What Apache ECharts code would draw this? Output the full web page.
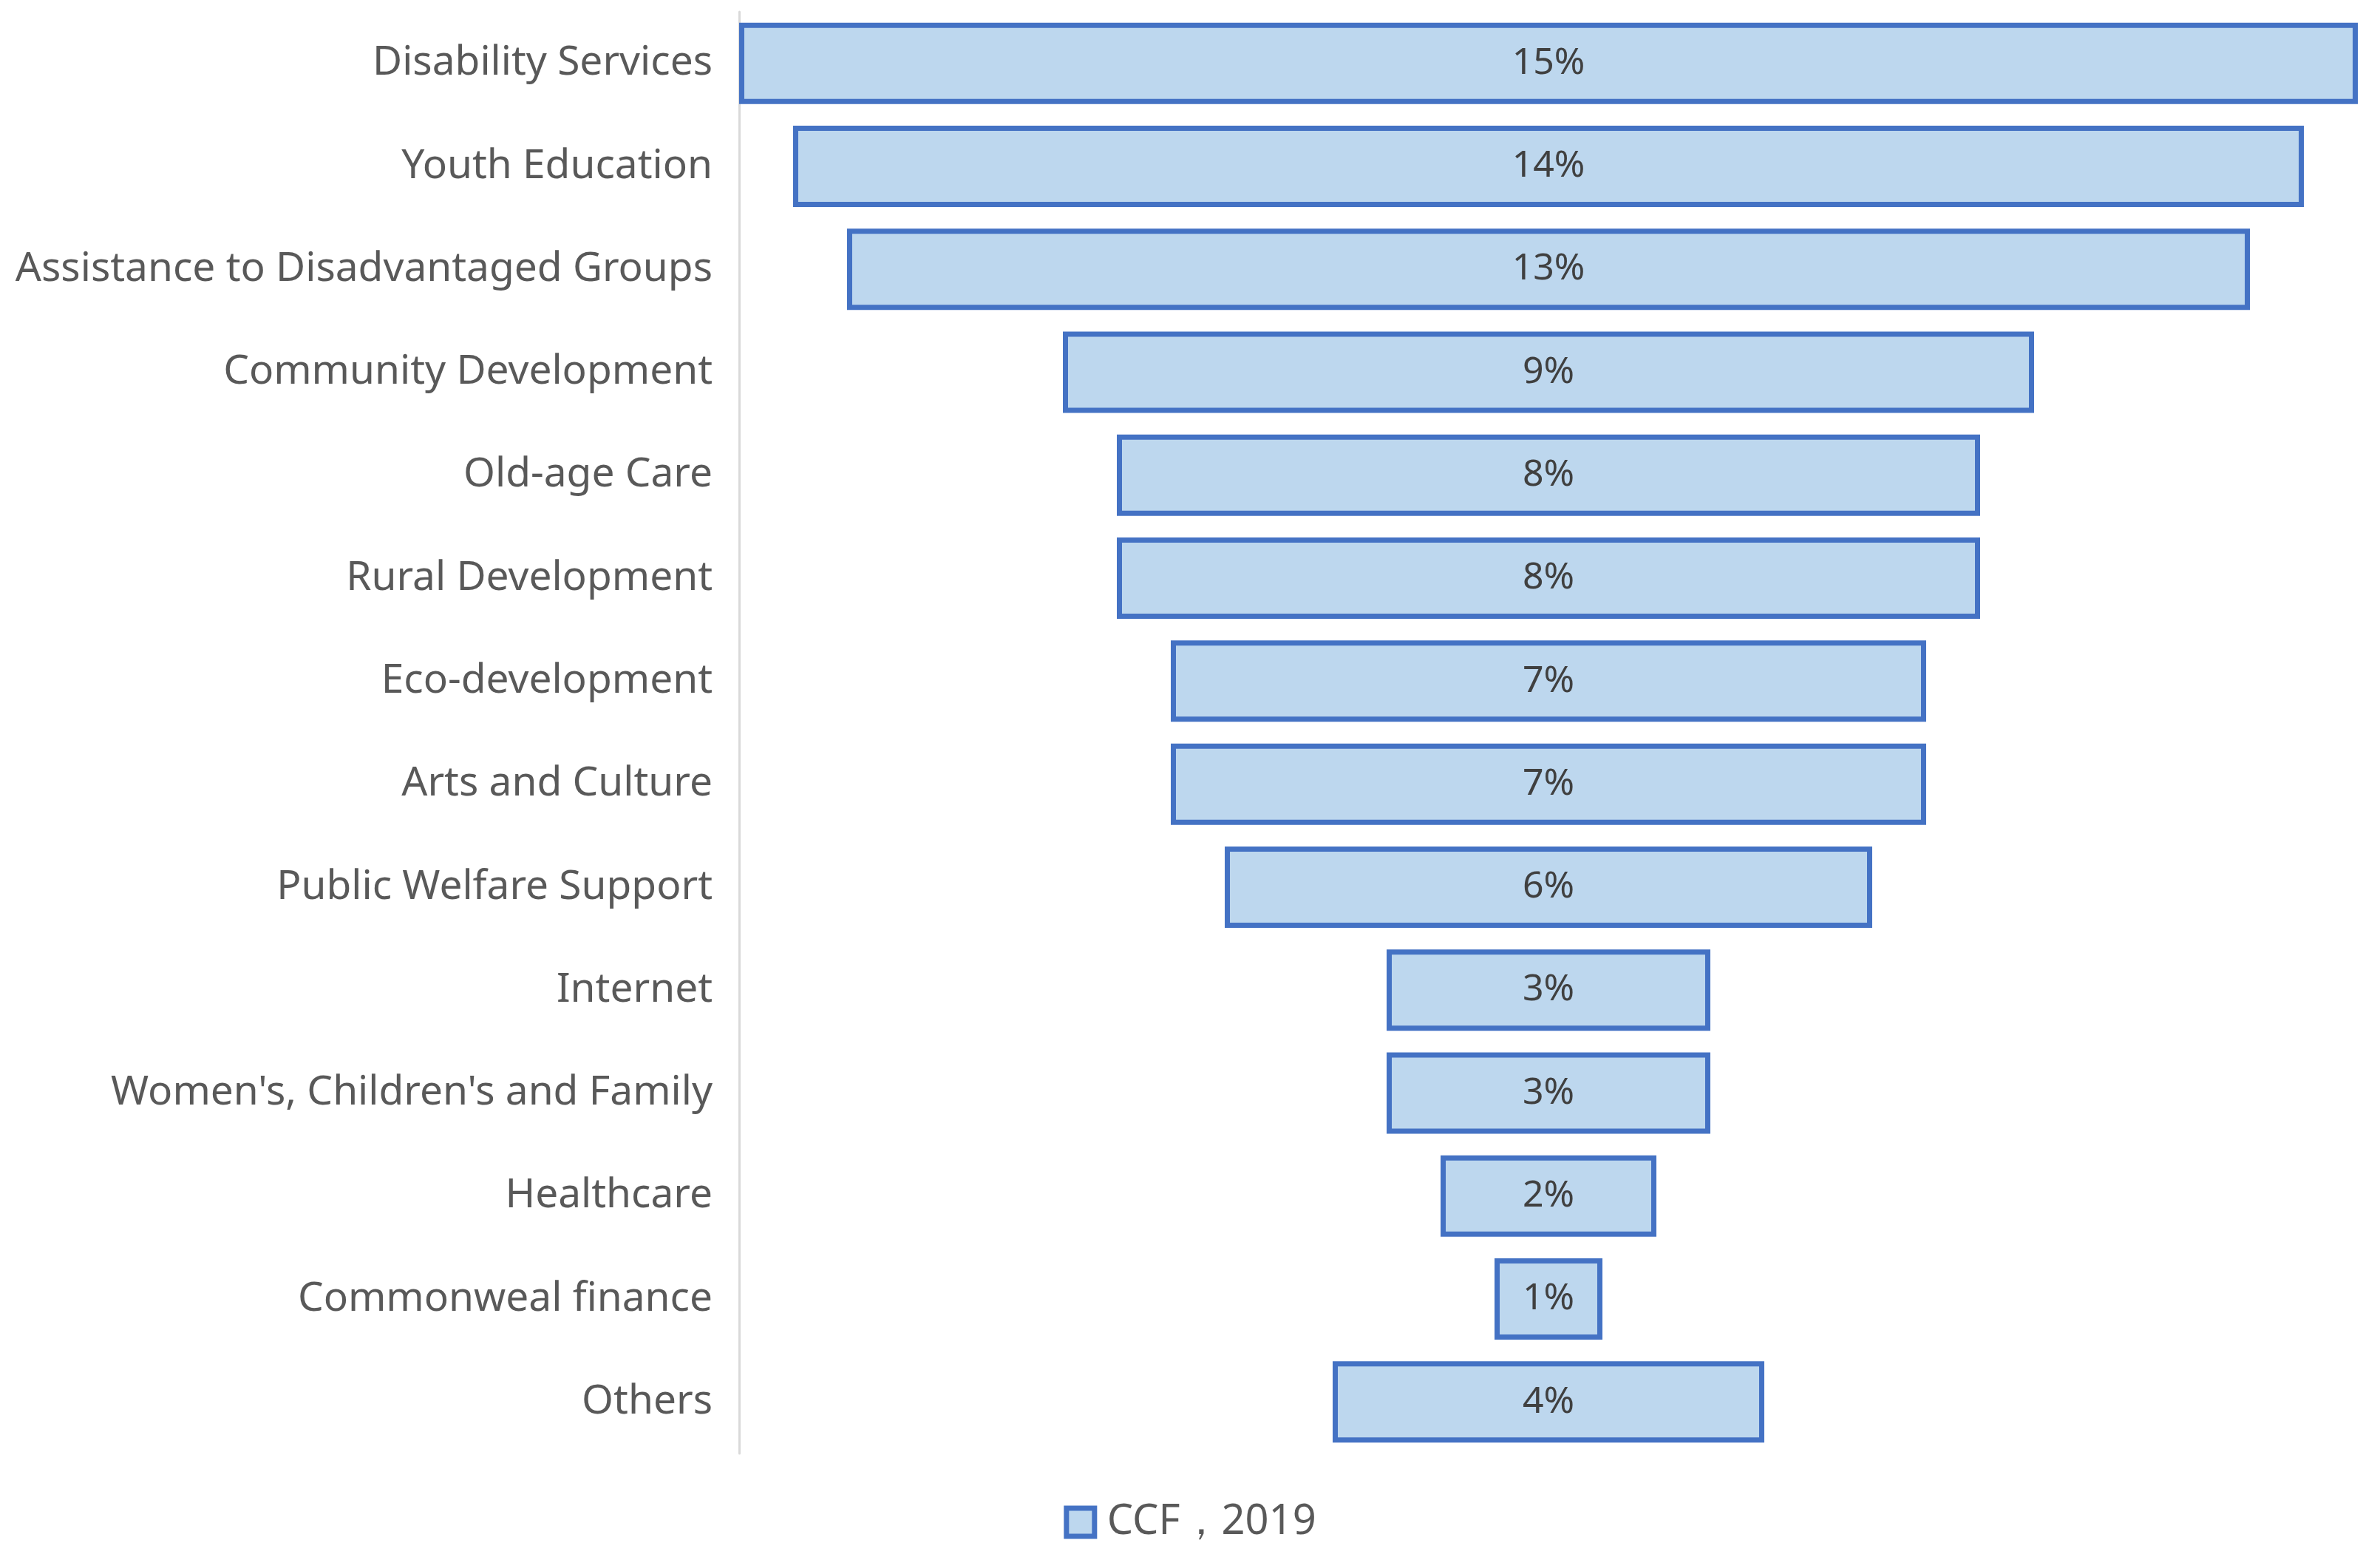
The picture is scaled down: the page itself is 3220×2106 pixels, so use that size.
<!DOCTYPE html>
<html>
<head>
<meta charset="utf-8">
<script src="https://cdn.jsdelivr.net/npm/echarts@6/dist/echarts.min.js"></script>
<style>html,body{margin:0;padding:0;background:#fff;}#c{width:3220px;height:2106px;}</style>
</head>
<body>
<div id="c"></div>
<script>
const categories = ["Disability Services","Youth Education","Assistance to Disadvantaged Groups","Community Development","Old-age Care","Rural Development","Eco-development","Arts and Culture","Public Welfare Support","Internet","Women's, Children's and Family","Healthcare","Commonweal finance","Others"];
const values = [15,14,13,9,8,8,7,7,6,3,3,2,1,4];
const seriesName = "CCF，2019";
const maxValue = 15;
const offsets = values.map(v => (maxValue - v) / 2);

const chart = echarts.init(document.getElementById('c'));
chart.setOption({
  animation: false,
  backgroundColor: '#fff',
  grid: {left: 1000, right: 30, top: 16, height: 1950},
  legend: {
    data: [seriesName],
    bottom: 14,
    left: 'center',
    itemWidth: 38, itemHeight: 38, itemGap: 10,
    icon: 'rect',
    itemStyle: {color: '#BDD7EE', borderColor: '#4472C4', borderWidth: 7},
    textStyle: {fontFamily: 'Noto Sans', fontSize: 56, color: '#595959', padding: [0, 0, 0, 12]}
  },
  xAxis: {type: 'value', min: 0, max: maxValue, show: false},
  yAxis: {
    type: 'category', data: categories, inverse: true,
    axisLine: {show: true, lineStyle: {color: '#D9D9D9', width: 3}},
    axisTick: {show: false},
    axisLabel: {fontFamily: 'Noto Sans', fontSize: 55, color: '#595959', margin: 36}
  },
  series: [
    {name: 'offset', type: 'bar', stack: 'f', data: offsets, silent: true,
     itemStyle: {color: 'transparent'}, barWidth: 110},
    {name: seriesName, type: 'bar', stack: 'f', data: values, barWidth: 110,
     itemStyle: {color: '#BDD7EE', borderColor: '#4472C4', borderWidth: 7},
     label: {show: true, position: 'inside', formatter: p => p.value + '%',
             fontFamily: 'Noto Sans', fontSize: 50, color: '#404040'}}
  ]
});
</script>
</body>
</html>
